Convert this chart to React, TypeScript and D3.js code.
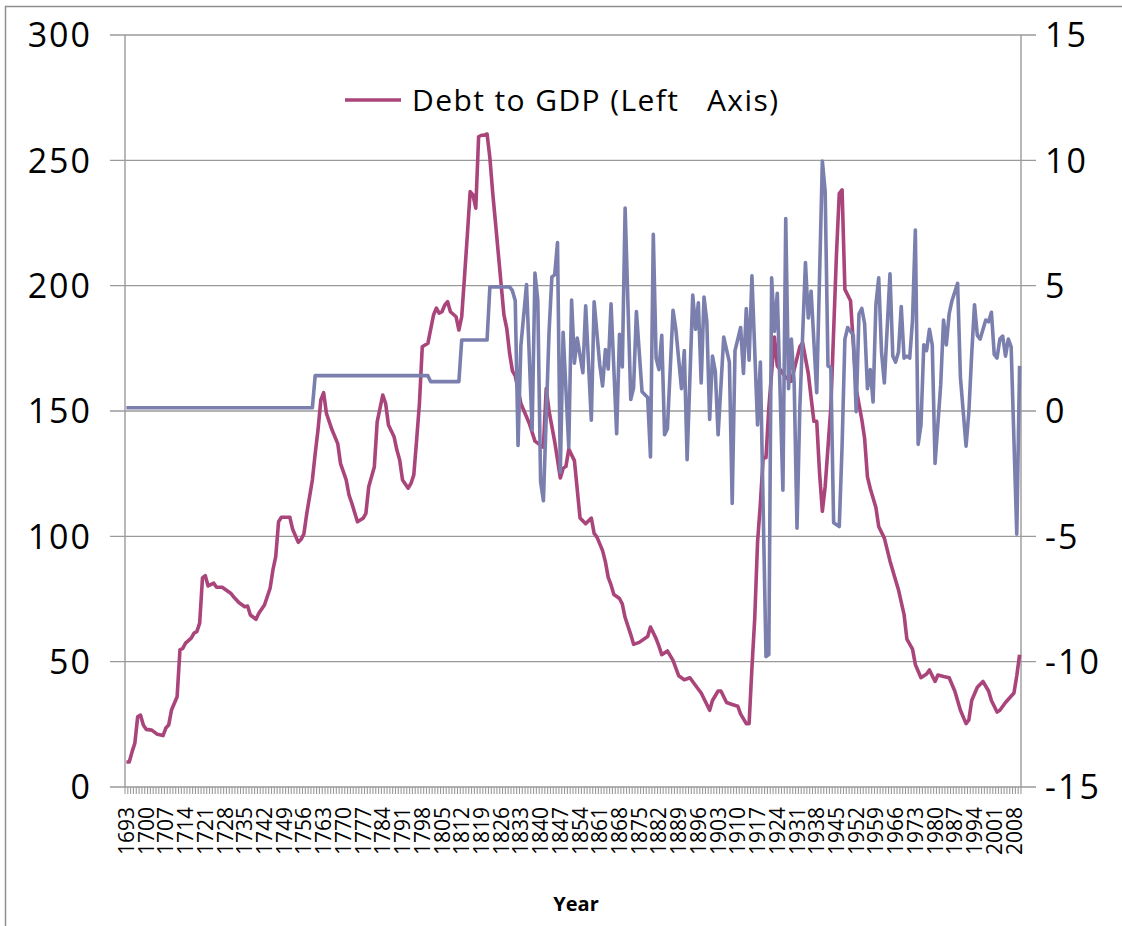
import React from 'react';
import * as d3 from 'd3';

// categories: one per year, labels every 7th year
const years = d3.range(1693, 2011);
const labelYears = years.filter((_, i) => i % 7 === 0);

const leftTicks = [0, 50, 100, 150, 200, 250, 300];
const rightTicks = [-15, -10, -5, 0, 5, 10, 15];

// Debt to GDP, % (left axis)
const debtToGdp: [number, number][] = [
  [1693, 10], [1694, 10], [1695, 14], [1696, 17.5], [1697, 28], [1698, 28.7], [1699, 24.7], [1700, 23],
  [1702, 22.7], [1704, 21], [1706, 20.5], [1707, 23.5], [1708, 24.7], [1709, 30.7], [1711, 36], [1712, 54.7],
  [1713, 55.3], [1714, 57.4], [1716, 59.4], [1717, 61.4], [1718, 62], [1719, 65.4], [1720, 83.4], [1721, 84.3],
  [1722, 80.2], [1724, 81.3], [1725, 79.7], [1727, 79.7], [1730, 77.3], [1731, 75.9], [1733, 73.5], [1735, 71.9],
  [1736, 72.2], [1737, 68.6], [1739, 66.9], [1740, 69.3], [1742, 72.6], [1744, 79.3], [1745, 86.6], [1746, 91.9],
  [1747, 105.8], [1748, 107.6], [1751, 107.6], [1752, 102.8], [1754, 97.6], [1755, 98.8], [1756, 101], [1757, 109],
  [1759, 122.5], [1760, 133], [1761, 142.4], [1762, 154.4], [1763, 157.3], [1764, 149], [1766, 142.4], [1768, 137],
  [1769, 129], [1771, 122.5], [1772, 116.5], [1773, 113.2], [1775, 105.8], [1777, 107.2], [1778, 109.2], [1779, 119.8],
  [1781, 127.8], [1782, 145.7], [1784, 156.4], [1785, 153], [1786, 144.4], [1788, 139.7], [1789, 134.4], [1790, 130.4],
  [1791, 122.5], [1793, 119.2], [1794, 121.1], [1795, 124.5], [1796, 138.4], [1797, 153], [1798, 175.6], [1800, 177],
  [1802, 188.3], [1803, 191], [1804, 189], [1805, 189.6], [1806, 192.3], [1807, 193.6], [1808, 189.6], [1810, 187.6],
  [1811, 182.3], [1812, 187.6], [1813, 203.6], [1814, 220.2], [1815, 237.5], [1816, 236.2], [1817, 230.9], [1818, 259.4],
  [1819, 260], [1820, 260], [1821, 260.5], [1822, 251], [1823, 237], [1824, 225], [1826, 200.4], [1827, 188.2],
  [1828, 182.9], [1829, 173], [1830, 166], [1831, 164], [1833, 153], [1836, 145], [1838, 138], [1841, 135.5],
  [1842, 159], [1843, 150], [1845, 137.8], [1847, 123.3], [1848, 127.1], [1849, 127.9], [1850, 134.8], [1852, 130.2],
  [1854, 107.3], [1856, 105], [1858, 107.3], [1859, 101.2], [1860, 99.7], [1862, 94.3], [1863, 89.8], [1864, 83.6],
  [1865, 80.6], [1866, 76.8], [1868, 75.2], [1869, 73], [1870, 67.6], [1872, 60.8], [1873, 56.9], [1875, 57.7],
  [1878, 60], [1879, 63.8], [1881, 59.2], [1882, 56.2], [1883, 52.8], [1885, 54.3], [1887, 50.5], [1889, 44.4],
  [1891, 42.8], [1893, 43.6], [1895, 40.5], [1897, 37.5], [1898, 35.2], [1900, 30.6], [1901, 34.5], [1903, 38.3],
  [1904, 38.3], [1906, 33.7], [1908, 32.9], [1910, 32.2], [1911, 29.1], [1913, 25.3], [1914, 25.3], [1915, 47.4],
  [1916, 67.3], [1917, 97.7], [1918, 113], [1919, 131.4], [1920, 131.4], [1921, 151.2], [1923, 179.5], [1924, 168],
  [1926, 165], [1927, 163.4], [1929, 161.9], [1930, 166.5], [1932, 175.6], [1933, 177.2], [1935, 165], [1937, 145.9],
  [1938, 145.9], [1939, 125.3], [1940, 110], [1941, 119.9], [1943, 151.2], [1945, 212.3], [1946, 236.7], [1947, 238.2],
  [1948, 198.5], [1950, 194], [1952, 158.8], [1954, 146.6], [1955, 139], [1956, 123.7], [1957, 119.1], [1959, 111.5],
  [1960, 103.9], [1962, 99.3], [1964, 90.2], [1966, 82.5], [1967, 78.7], [1969, 68.8], [1970, 59], [1972, 55],
  [1973, 48.9], [1975, 43.6], [1977, 45.1], [1978, 46.7], [1980, 42.1], [1981, 44.7], [1983, 44.1], [1985, 43.6],
  [1987, 38.3], [1989, 30.6], [1991, 25.3], [1992, 26.8], [1993, 34.5], [1995, 39.8], [1997, 42.1], [1999, 38.3],
  [2000, 34.5], [2002, 29.9], [2003, 30.6], [2005, 33.7], [2008, 37.5], [2009, 44.4], [2010, 52.8],
];

// second series (right axis)
const growth: [number, number][] = [
  [1693, 0.13], [1759, 0.13], [1760, 1.41], [1800, 1.41], [1801, 1.17], [1811, 1.17], [1812, 2.83], [1821, 2.83],
  [1822, 4.95], [1829, 4.95], [1830, 4.8], [1831, 4.4], [1832, -1.37], [1833, 2.6], [1835, 5.04], [1837, -0.76],
  [1838, 5.5], [1839, 4.43], [1840, -2.82], [1841, -3.58], [1843, 3.14], [1844, 5.35], [1845, 5.43], [1846, 6.72],
  [1847, -2.44], [1848, 3.14], [1850, -1.44], [1851, 4.43], [1852, 1.91], [1853, 2.91], [1855, 1.53], [1856, 4.2],
  [1858, -0.37], [1859, 4.36], [1861, 1.84], [1862, 1.0], [1863, 2.45], [1864, 1.68], [1865, 4.28], [1867, -0.91],
  [1868, 3.06], [1869, 1.76], [1870, 8.1], [1872, 0.46], [1873, 0.92], [1874, 3.97], [1876, 0.77], [1878, 0.54],
  [1879, -1.83], [1880, 7.05], [1881, 2.11], [1882, 1.65], [1883, 3.02], [1884, -0.95], [1885, -0.71], [1887, 4.02],
  [1888, 3.26], [1890, 0.89], [1891, 2.41], [1892, -1.94], [1894, 4.63], [1895, 3.26], [1896, 4.32], [1897, 1.12],
  [1898, 4.55], [1899, 3.56], [1900, -0.34], [1901, 2.19], [1902, 1.58], [1903, -0.95], [1905, 2.95], [1907, 1.95],
  [1908, -3.69], [1909, 2.41], [1911, 3.33], [1912, 1.5], [1913, 4.09], [1914, 2.03], [1915, 5.39], [1917, -0.56],
  [1918, 1.95], [1920, -9.8], [1921, -9.72], [1922, 5.31], [1923, 3.18], [1924, 4.7], [1926, -3.16], [1927, 7.68],
  [1928, 0.89], [1929, 2.87], [1930, 1.12], [1931, -4.68], [1932, 0.12], [1934, 5.92], [1935, 3.71], [1936, 4.78],
  [1938, 0.73], [1940, 9.97], [1941, 8.75], [1942, 1.8], [1943, 1.73], [1944, -4.46], [1946, -4.61], [1947, -1.4],
  [1948, 2.87], [1949, 3.33], [1951, 3.02], [1952, -0.03], [1953, 3.87], [1954, 4.09], [1955, 3.48], [1956, 0.89],
  [1957, 1.65], [1958, 0.36], [1959, 4.24], [1960, 5.31], [1961, 2.34], [1962, 1.12], [1964, 5.47], [1965, 2.19],
  [1966, 1.95], [1967, 2.34], [1968, 4.17], [1969, 2.11], [1970, 2.19], [1971, 2.11], [1972, 3.63], [1973, 7.22],
  [1974, -1.33], [1975, -0.56], [1976, 2.64], [1977, 2.41], [1978, 3.26], [1979, 2.64], [1980, -2.09], [1982, 1.04],
  [1983, 3.63], [1984, 2.64], [1985, 3.87], [1986, 4.4], [1988, 5.09], [1989, 1.34], [1991, -1.4], [1992, -0.03],
  [1993, 2.26], [1994, 4.24], [1995, 3.02], [1996, 2.87], [1998, 3.63], [1999, 3.56], [2000, 3.94], [2001, 2.26],
  [2002, 2.11], [2003, 2.87], [2004, 2.99], [2005, 2.19], [2006, 2.87], [2007, 2.56], [2009, -4.91], [2010, 1.8],
];

const W = 1122;
const H = 926;
const plot = { left: 125, right: 1021, top: 35, bottom: 787 };

const PINK = '#a9457b';
const BLUE = '#7a7fae';
const GRID = '#9a9a9a';
const FONT = '"Open Sans", "DejaVu Sans", sans-serif';

export default function App() {
  const x = d3.scaleBand<number>().domain(years).range([plot.left, plot.right]).padding(0);
  const bw = x.bandwidth();
  const xc = (yr: number) => (x(yr) as number) + bw / 2;
  const yL = d3.scaleLinear().domain([0, 300]).range([plot.bottom, plot.top]);
  const yR = d3.scaleLinear().domain([-15, 15]).range([plot.bottom, plot.top]);

  const debtLine = d3.line<[number, number]>().x(d => xc(d[0])).y(d => yL(d[1]));
  const growthLine = d3.line<[number, number]>().x(d => xc(d[0])).y(d => yR(d[1]));

  const catTicks = d3.range(years.length + 1).map(i => plot.left + i * bw);

  return (
    <svg width={W} height={H} style={{ position: 'absolute', left: 0, top: 0, background: '#fff' }}>
      <rect x={0} y={0} width={W} height={H} fill="#fff" />
      <rect x={5.5} y={6.5} width={W + 20} height={H + 20} fill="none" stroke="#8f8f8f" strokeWidth={1.5} />

      {/* gridlines + left ticks */}
      {leftTicks.map(t => (
        <line key={'g' + t} x1={plot.left - 15} x2={plot.right + 15} y1={yL(t)} y2={yL(t)} stroke={GRID} strokeWidth={1.4} />
      ))}
      {/* axis lines */}
      <line x1={plot.left} x2={plot.left} y1={plot.top} y2={plot.bottom} stroke={GRID} strokeWidth={1.4} />
      <line x1={plot.right} x2={plot.right} y1={plot.top} y2={plot.bottom} stroke={GRID} strokeWidth={1.4} />
      {/* category ticks */}
      {catTicks.map((cx, i) => (
        <line key={'c' + i} x1={cx} x2={cx} y1={plot.bottom} y2={plot.bottom + 7} stroke={GRID} strokeWidth={1.1} />
      ))}

      {/* left axis labels */}
      {leftTicks.map(t => (
        <text key={'l' + t} x={92} y={yL(t)} dy="0.36em" textAnchor="end" fontFamily={FONT} fontSize={34} letterSpacing={2} fill="#000">
          {t}
        </text>
      ))}
      {/* right axis labels */}
      {rightTicks.map(t => (
        <text key={'r' + t} x={1045} y={yR(t)} dy="0.36em" textAnchor="start" fontFamily={FONT} fontSize={34} letterSpacing={2} fill="#000">
          {t}
        </text>
      ))}

      {/* year labels */}
      {labelYears.map(yr => (
        <text
          key={'y' + yr}
          transform={`translate(${xc(yr)},${plot.bottom + 20}) rotate(-90)`}
          textAnchor="end"
          dy="0.36em"
          fontFamily={FONT}
          fontSize={21}
          fill="#000"
        >
          {yr}
        </text>
      ))}
      <text x={(plot.left + plot.right) / 2 + 3} y={911} textAnchor="middle" fontFamily={FONT} fontWeight="bold" fontSize={20} fill="#000">
        Year
      </text>

      {/* series */}
      <path d={debtLine(debtToGdp) || ''} fill="none" stroke={PINK} strokeWidth={3.6} strokeLinejoin="round" />
      <path d={growthLine(growth) || ''} fill="none" stroke={BLUE} strokeWidth={3.6} strokeLinejoin="round" />

      {/* legend */}
      <line x1={345} x2={401} y1={100} y2={100} stroke={PINK} strokeWidth={3.6} />
      <text x={412} y={111} fontFamily={FONT} fontSize={30} fill="#000" style={{ whiteSpace: 'pre' }} textLength={366} lengthAdjust="spacing">
        {'Debt to GDP (Left   Axis)'}
      </text>
    </svg>
  );
}
